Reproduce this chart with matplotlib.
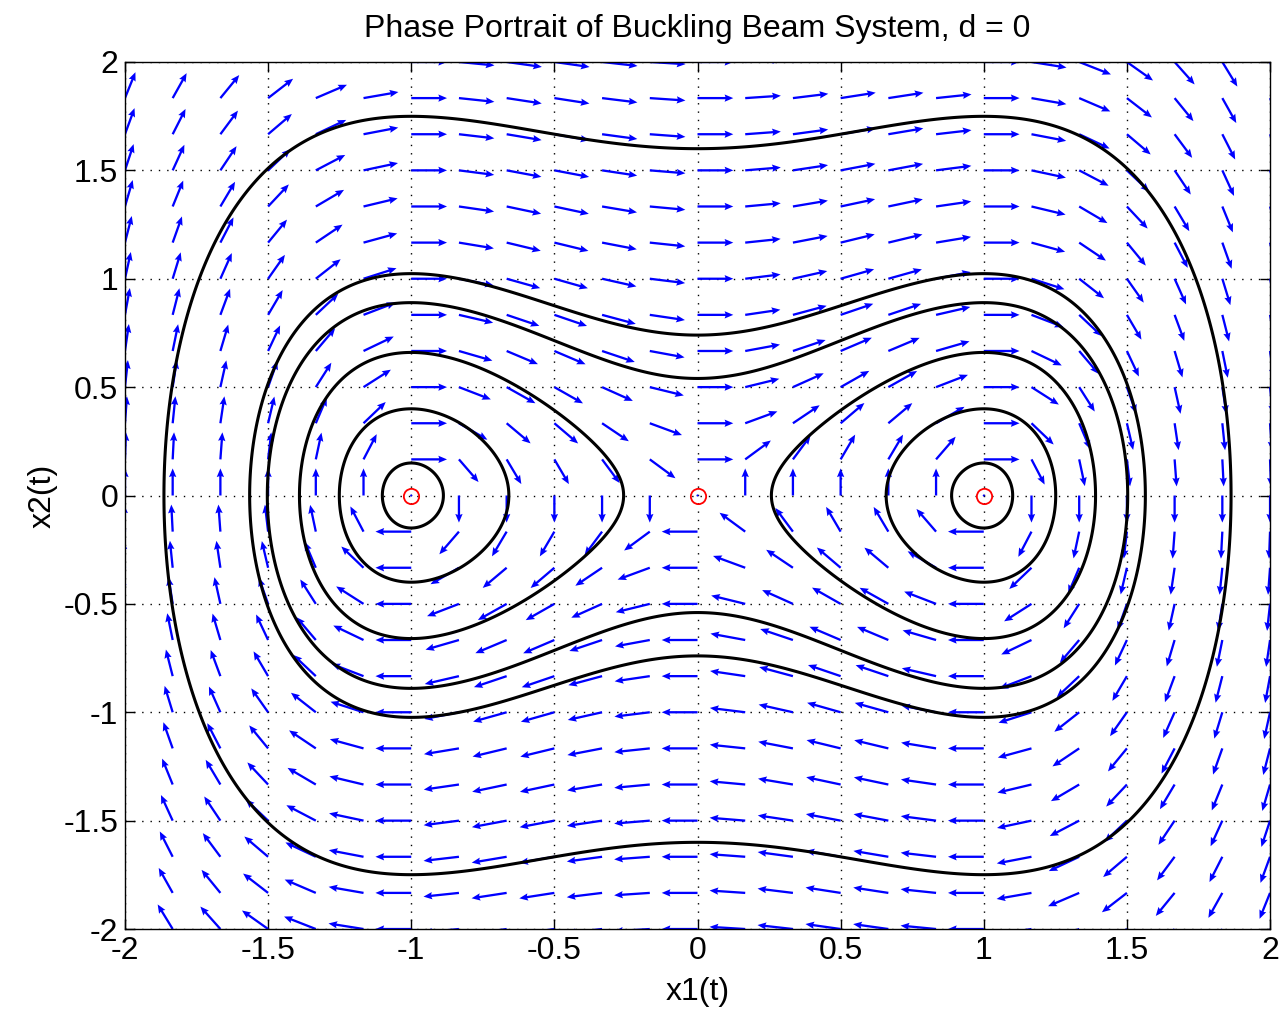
import numpy as np
import matplotlib
matplotlib.use("Agg")
import matplotlib.pyplot as plt

plt.rcParams['font.family'] = ['Liberation Sans', 'DejaVu Sans']

# buckling beam: x1' = x2, x2' = x1 - x1^3 - d*x2
d = 0.0
grid_pts = np.linspace(-2, 2, 25)           # quiver grid in both directions
equilibria_x1 = [-1.0, 0.0, 1.0]
equilibria_x2 = [0.0, 0.0, 0.0]

# orbits: where each one crosses x1 = +-1 (around a well)
# or x1 = 0 (around both wells)
well_orbit_x2 = [0.15, 0.40, 0.66]
outer_orbit_x2 = [0.54, 0.74, 1.60]

xticks = [-2, -1.5, -1, -0.5, 0, 0.5, 1, 1.5, 2]
yticks = [-2, -1.5, -1, -0.5, 0, 0.5, 1, 1.5, 2]


def energy(x1, x2):
    return x2**2 / 2 - x1**2 / 2 + x1**4 / 4


fig = plt.figure(figsize=(12.83, 10.16), dpi=100)
ax = fig.add_axes([0.0974, 0.0856, 0.8925, 0.8534])

# direction field, normalised arrows
X1, X2 = np.meshgrid(grid_pts, grid_pts)
U = X2
V = X1 - X1**3 - d * X2
L = np.hypot(U, V)
L[L == 0] = 1
ax.quiver(X1, X2, U / L, V / L, color='blue', angles='xy', scale_units='xy',
          scale=1 / 0.125, width=0.002, headwidth=3.2, headlength=3.8,
          headaxislength=3.4, zorder=2)

# closed orbits as level sets
levels = sorted([energy(1.0, v) for v in well_orbit_x2] +
                [energy(0.0, v) for v in outer_orbit_x2])
gx = np.linspace(-2, 2, 801)
GX, GY = np.meshgrid(gx, gx)
ax.contour(GX, GY, energy(GX, GY), levels=levels, colors='black',
           linewidths=2.2, linestyles='solid', zorder=3)

ax.plot(equilibria_x1, equilibria_x2, 'o', mfc='none', mec='red',
        ms=11, mew=1.3, zorder=4)

ax.set_xlim(-2, 2)
ax.set_ylim(-2, 2)
ax.set_xticks(xticks)
ax.set_yticks(yticks)
ax.set_xticklabels(['-2', '-1.5', '-1', '-0.5', '0', '0.5', '1', '1.5', '2'])
ax.set_yticklabels(['-2', '-1.5', '-1', '-0.5', '0', '0.5', '1', '1.5', '2'])
ax.tick_params(direction='in', top=True, right=True, labelsize=23, length=7,
               width=1, pad=5)
ax.grid(True, color='black', linestyle=(0, (1, 5)), linewidth=1)
for s in ax.spines.values():
    s.set_linewidth(1)

ax.set_title('Phase Portrait of Buckling Beam System, d = 0', fontsize=23, pad=18)
ax.set_xlabel('x1(t)', fontsize=23, labelpad=8)
ax.set_ylabel('x2(t)', fontsize=23, labelpad=4)

fig.savefig('out.png', dpi=100)
